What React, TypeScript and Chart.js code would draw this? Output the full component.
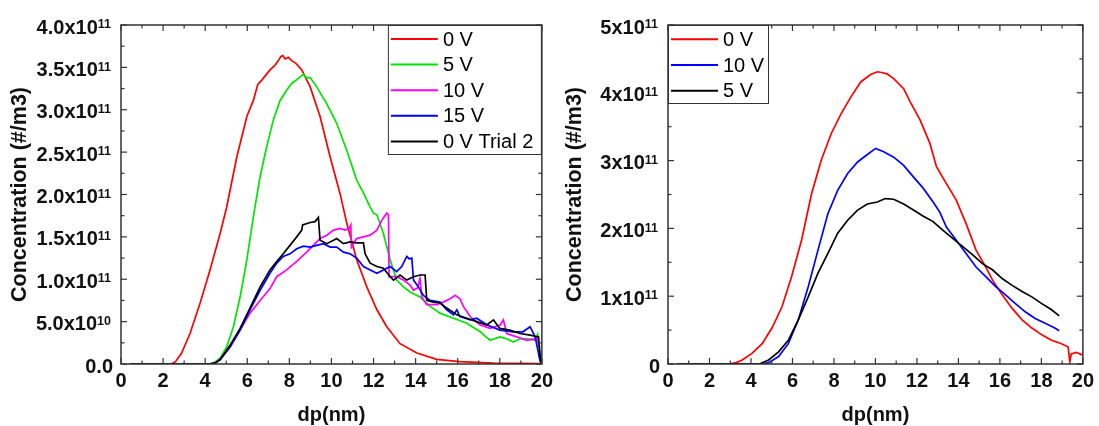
import React, { useEffect, useRef } from "react";
import { Chart, registerables } from "chart.js";

Chart.register(...registerables);

const FONT = "'Liberation Sans', Arial, Helvetica, sans-serif";
const E11 = 1e11;

// ---------- Left panel data (concentration in units of 1e11 #/m3) ----------
const left0V_x = [0.43, 2.4, 2.6, 2.88, 3.28, 3.76, 4.23, 4.71, 5.02, 5.5, 5.98, 6.29, 6.5, 6.69, 7.08, 7.3, 7.48, 7.6, 7.69, 7.8, 7.95, 8.11, 8.3, 8.59, 8.99, 9.46, 9.94, 10.41, 10.73, 11.2, 11.68, 12.16, 12.63, 13.26, 14.06, 15.0, 16.1, 17.7, 20.0];
const left0V_y = [0, 0, 0.03, 0.13, 0.36, 0.72, 1.11, 1.54, 1.85, 2.44, 2.92, 3.11, 3.3, 3.35, 3.47, 3.52, 3.58, 3.63, 3.64, 3.6, 3.62, 3.58, 3.55, 3.47, 3.27, 2.92, 2.44, 2.01, 1.66, 1.23, 0.91, 0.64, 0.44, 0.24, 0.13, 0.055, 0.027, 0.01, 0.005];

const left5V_x = [0.43, 4.2, 4.45, 4.71, 5.02, 5.34, 5.66, 5.98, 6.29, 6.61, 6.92, 7.24, 7.56, 7.87, 8.11, 8.43, 8.67, 8.8, 8.99, 9.3, 9.78, 10.25, 10.73, 11.2, 11.52, 11.84, 12.0, 12.16, 12.47, 12.79, 13.1, 13.42, 13.74, 14.21, 14.69, 15.16, 15.8, 16.43, 17.07, 17.3, 17.54, 18.0, 18.3, 18.64, 19.0, 19.28, 19.68, 19.8, 19.9];
const left5V_y = [0, 0, 0.02, 0.07, 0.2, 0.44, 0.79, 1.23, 1.74, 2.21, 2.56, 2.88, 3.11, 3.23, 3.31, 3.37, 3.42, 3.38, 3.38, 3.27, 3.07, 2.84, 2.52, 2.17, 2.02, 1.85, 1.78, 1.76, 1.54, 1.23, 0.99, 0.91, 0.85, 0.79, 0.68, 0.6, 0.54, 0.48, 0.38, 0.33, 0.28, 0.32, 0.3, 0.26, 0.3, 0.3, 0.28, 0.35, 0.09];

const left10V_x = [0.43, 4.2, 4.45, 4.71, 5.18, 5.66, 6.13, 6.61, 7.08, 7.4, 7.87, 8.35, 8.82, 9.14, 9.46, 9.78, 10.1, 10.41, 10.65, 10.85, 10.92, 10.95, 11.2, 11.52, 11.84, 12.16, 12.4, 12.63, 12.71, 12.74, 13.1, 13.42, 13.74, 13.9, 14.1, 14.21, 14.29, 14.53, 15.0, 15.32, 15.64, 15.88, 16.11, 16.27, 16.59, 17.07, 17.54, 18.02, 18.17, 18.33, 18.8, 19.28, 19.76, 19.9];
const left10V_y = [0, 0, 0.01, 0.05, 0.2, 0.4, 0.6, 0.75, 0.89, 1.03, 1.11, 1.21, 1.32, 1.4, 1.48, 1.52, 1.58, 1.6, 1.58, 1.6, 1.64, 1.38, 1.48, 1.5, 1.52, 1.58, 1.7, 1.78, 1.76, 1.03, 1.03, 0.99, 0.93, 0.87, 0.9, 1.01, 0.79, 0.7, 0.7, 0.73, 0.77, 0.81, 0.77, 0.68, 0.56, 0.46, 0.42, 0.46, 0.52, 0.36, 0.32, 0.28, 0.3, 0.2];

const left15V_x = [0.43, 4.2, 4.45, 4.71, 5.18, 5.66, 6.13, 6.61, 7.08, 7.4, 7.71, 8.03, 8.35, 8.67, 8.99, 9.3, 9.62, 9.94, 10.25, 10.57, 10.89, 11.2, 11.52, 11.84, 12.16, 12.47, 12.79, 13.1, 13.34, 13.58, 13.7, 13.82, 13.9, 14.13, 14.37, 14.69, 15.16, 15.48, 15.8, 15.96, 16.1, 16.6, 16.9, 17.4, 18.0, 18.64, 19.1, 19.44, 19.68, 19.92];
const left15V_y = [0, 0, 0.01, 0.055, 0.2, 0.4, 0.64, 0.87, 1.07, 1.19, 1.27, 1.3, 1.36, 1.39, 1.38, 1.4, 1.42, 1.38, 1.38, 1.32, 1.3, 1.25, 1.15, 1.11, 1.07, 1.11, 1.15, 1.09, 1.15, 1.27, 1.24, 1.25, 0.99, 0.91, 0.81, 0.75, 0.73, 0.64, 0.58, 0.64, 0.56, 0.52, 0.54, 0.46, 0.4, 0.38, 0.38, 0.44, 0.32, 0.03];

const left0VT2_x = [0.43, 4.2, 4.45, 4.71, 5.18, 5.66, 6.13, 6.61, 7.08, 7.4, 7.71, 8.03, 8.35, 8.59, 8.63, 8.99, 9.22, 9.38, 9.46, 9.78, 10.1, 10.25, 10.57, 10.89, 11.2, 11.52, 11.6, 11.84, 12.16, 12.47, 12.79, 12.95, 13.26, 13.58, 13.9, 14.21, 14.45, 14.53, 14.85, 15.16, 15.48, 15.96, 16.43, 16.9, 17.38, 17.7, 18.0, 18.48, 18.96, 19.44, 19.84, 19.95];
const left0VT2_y = [0, 0, 0.01, 0.05, 0.22, 0.42, 0.66, 0.91, 1.11, 1.21, 1.3, 1.4, 1.5, 1.58, 1.64, 1.67, 1.68, 1.73, 1.46, 1.42, 1.46, 1.48, 1.42, 1.44, 1.43, 1.43, 1.3, 1.19, 1.15, 1.13, 1.03, 0.99, 1.05, 0.99, 1.03, 1.05, 1.05, 0.75, 0.73, 0.72, 0.66, 0.58, 0.54, 0.5, 0.46, 0.52, 0.42, 0.4, 0.36, 0.34, 0.32, 0.01];

const leftYTickValues = [0, 0.5, 1.0, 1.5, 2.0, 2.5, 3.0, 3.5, 4.0];
const leftYTickMantissas = ["0.0", "5.0x10", "1.0x10", "1.5x10", "2.0x10", "2.5x10", "3.0x10", "3.5x10", "4.0x10"];
const leftYTickExponents = ["", "10", "11", "11", "11", "11", "11", "11", "11"];
const leftYMinor = [0.25, 0.75, 1.25, 1.75, 2.25, 2.75, 3.25, 3.75];

// ---------- Right panel data ----------
const right0V_x = [0.43, 2.95, 3.3, 3.58, 4.06, 4.54, 5.01, 5.49, 5.96, 6.44, 6.92, 7.39, 7.87, 8.34, 8.82, 9.29, 9.77, 10.09, 10.3, 10.56, 10.88, 11.36, 11.67, 12.15, 12.63, 12.94, 13.42, 13.89, 14.37, 14.85, 15.32, 15.64, 16.11, 16.59, 17.07, 17.54, 18.02, 18.49, 18.97, 19.29, 19.37, 19.44, 19.68, 20.0];
const right0V_y = [0, 0, 0.02, 0.06, 0.16, 0.3, 0.53, 0.84, 1.29, 1.83, 2.51, 3.01, 3.4, 3.69, 3.94, 4.16, 4.27, 4.31, 4.3, 4.28, 4.21, 4.06, 3.87, 3.6, 3.25, 2.91, 2.66, 2.42, 2.07, 1.68, 1.43, 1.24, 1.02, 0.82, 0.65, 0.53, 0.43, 0.35, 0.3, 0.25, 0.03, 0.15, 0.17, 0.13];

const right10V_x = [0.43, 4.54, 4.85, 5.33, 5.8, 6.28, 6.76, 7.23, 7.71, 8.18, 8.66, 9.14, 9.61, 10.01, 10.4, 10.88, 11.36, 11.83, 12.31, 12.78, 13.1, 13.42, 13.89, 14.37, 14.85, 15.32, 15.8, 16.27, 16.75, 17.22, 17.7, 18.18, 18.65, 18.86];
const right10V_y = [0, 0, 0.02, 0.11, 0.3, 0.65, 1.14, 1.68, 2.22, 2.56, 2.81, 2.98, 3.09, 3.18, 3.13, 3.05, 2.93, 2.76, 2.59, 2.39, 2.24, 2.02, 1.83, 1.63, 1.43, 1.29, 1.14, 1.02, 0.89, 0.77, 0.67, 0.6, 0.53, 0.49];

const right5V_x = [0.43, 4.4, 4.85, 5.33, 5.8, 6.28, 6.76, 7.23, 7.71, 8.18, 8.66, 9.14, 9.61, 10.09, 10.48, 10.88, 11.36, 11.83, 12.31, 12.78, 13.26, 13.74, 14.21, 14.69, 15.16, 15.64, 16.11, 16.59, 17.07, 17.54, 18.02, 18.49, 18.86];
const right5V_y = [0, 0, 0.06, 0.18, 0.35, 0.65, 0.99, 1.34, 1.63, 1.93, 2.12, 2.27, 2.36, 2.39, 2.44, 2.43, 2.36, 2.27, 2.18, 2.1, 1.97, 1.85, 1.73, 1.61, 1.48, 1.39, 1.26, 1.16, 1.07, 0.99, 0.89, 0.8, 0.71];

const rightYTickValues = [0, 1, 2, 3, 4, 5];
const rightYTickMantissas = ["0", "1x10", "2x10", "3x10", "4x10", "5x10"];
const rightYTickExponents = ["", "11", "11", "11", "11", "11"];
const rightYMinor = [0.5, 1.5, 2.5, 3.5, 4.5];

const xMajor = [0, 2, 4, 6, 8, 10, 12, 14, 16, 18, 20];
const xMinor = [1, 3, 5, 7, 9, 11, 13, 15, 17, 19];

type Series = { label: string; color: string; xs: number[]; ys: number[] };

const leftSeries: Series[] = [
  { label: "0 V", color: "#ff0000", xs: left0V_x, ys: left0V_y },
  { label: "5 V", color: "#00e600", xs: left5V_x, ys: left5V_y },
  { label: "10 V", color: "#ff00ff", xs: left10V_x, ys: left10V_y },
  { label: "15 V", color: "#0000ff", xs: left15V_x, ys: left15V_y },
  { label: "0 V Trial 2", color: "#000000", xs: left0VT2_x, ys: left0VT2_y },
];

const rightSeries: Series[] = [
  { label: "0 V", color: "#ff0000", xs: right0V_x, ys: right0V_y },
  { label: "10 V", color: "#0000ff", xs: right10V_x, ys: right10V_y },
  { label: "5 V", color: "#000000", xs: right5V_x, ys: right5V_y },
];

const framePlugin = {
  id: "frame",
  afterDraw(chart: any, _args: any, o: any) {
    const { ctx, chartArea: a } = chart;
    const xs = chart.scales.x;
    const ys = chart.scales.y;
    ctx.save();
    const seg = (x1: number, y1: number, x2: number, y2: number) => {
      ctx.beginPath();
      ctx.moveTo(x1, y1);
      ctx.lineTo(x2, y2);
      ctx.stroke();
    };
    ctx.strokeStyle = "#333";
    ctx.lineWidth = 1.2;
    const xt = (vals: number[], len: number) =>
      vals.forEach((v) => {
        const p = xs.getPixelForValue(v);
        seg(p, a.bottom, p, a.bottom - len);
        seg(p, a.top, p, a.top + len);
      });
    const yt = (vals: number[], len: number) =>
      vals.forEach((v) => {
        const p = ys.getPixelForValue(v * E11);
        seg(a.left, p, a.left + len, p);
        seg(a.right, p, a.right - len, p);
      });
    xt(o.xMajor, 6);
    xt(o.xMinor, 3.5);
    yt(o.yMajor, 6);
    yt(o.yMinor, 3.5);

    // legend
    const L = o.legend;
    const lx = L.alignRight ? a.right - L.w : a.left;
    const ly = a.top;
    ctx.fillStyle = "#fff";
    ctx.fillRect(lx, ly, L.w, L.h);
    ctx.strokeStyle = "#333";
    ctx.lineWidth = 1;
    ctx.strokeRect(lx + 0.5, ly + 0.5, L.w - 1, L.h - 1);
    chart.data.datasets.forEach((d: any, i: number) => {
      const cy = ly + L.first + i * L.step;
      ctx.strokeStyle = d.borderColor;
      ctx.lineWidth = 2;
      seg(lx + 3, cy, lx + 50, cy);
      ctx.fillStyle = "#000";
      ctx.font = `20px ${FONT}`;
      ctx.textAlign = "left";
      ctx.textBaseline = "middle";
      ctx.fillText(d.label, lx + 55, cy + 1);
    });

    // frame
    ctx.strokeStyle = "#333";
    ctx.lineWidth = 1.5;
    ctx.strokeRect(a.left, a.top, a.right - a.left, a.bottom - a.top);

    // y tick labels with exponents
    ctx.fillStyle = "#111";
    ctx.textAlign = "left";
    ctx.textBaseline = "alphabetic";
    o.yVals.forEach((v: number, i: number) => {
      const py = ys.getPixelForValue(v * E11);
      const m = o.yMant[i];
      const e = o.yExp[i];
      ctx.font = `bold 20px ${FONT}`;
      const mw = ctx.measureText(m).width;
      ctx.font = `bold 12.5px ${FONT}`;
      const ew = e ? ctx.measureText(e).width : 0;
      const right = a.left - (e ? 10 : 8);
      const x0 = right - mw - ew;
      ctx.font = `bold 20px ${FONT}`;
      ctx.fillText(m, x0, py + 8.5);
      if (e) {
        ctx.font = `bold 12.5px ${FONT}`;
        ctx.fillText(e, x0 + mw, py + 3.2);
      }
    });
    ctx.restore();
  },
};

type PanelSpec = {
  series: Series[];
  yMax: number;
  yAxisWidth: number;
  padRight: number;
  yTitlePad: number;
  yVals: number[];
  yMant: string[];
  yExp: string[];
  yMinor: number[];
  legend: { alignRight: boolean; w: number; h: number; first: number; step: number };
};

function makeConfig(p: PanelSpec): any {
  return {
    type: "line",
    data: {
      datasets: p.series.map((s, i) => ({
        label: s.label,
        data: s.xs.map((x, j) => ({ x, y: s.ys[j] * E11 })),
        borderColor: s.color,
        backgroundColor: s.color,
        borderWidth: 1.7,
        pointRadius: 0,
        tension: 0,
        fill: false,
        order: p.series.length - i,
      })),
    },
    options: {
      responsive: false,
      animation: false,
      devicePixelRatio: 1,
      layout: { padding: { left: 0, top: 25, right: p.padRight, bottom: 0 } },
      plugins: {
        legend: { display: false },
        tooltip: { enabled: false },
        frame: {
          xMajor,
          xMinor,
          yMajor: p.yVals,
          yMinor: p.yMinor,
          yVals: p.yVals,
          yMant: p.yMant,
          yExp: p.yExp,
          legend: p.legend,
        },
      },
      scales: {
        x: {
          type: "linear",
          min: 0,
          max: 20,
          afterFit: (s: any) => {
            s.height = 62;
          },
          grid: { display: false, drawTicks: false },
          border: { display: false },
          ticks: {
            stepSize: 2,
            autoSkip: false,
            maxRotation: 0,
            padding: 5,
            color: "#111",
            font: { family: FONT, size: 20, weight: "bold" },
          },
          title: {
            display: true,
            text: "dp(nm)",
            color: "#111",
            font: { family: FONT, size: 20, weight: "bold", lineHeight: 1.1 },
            padding: { top: 0, bottom: 0 },
          },
        },
        y: {
          type: "linear",
          min: 0,
          max: p.yMax * E11,
          afterFit: (s: any) => {
            s.width = p.yAxisWidth;
          },
          grid: { display: false, drawTicks: false },
          border: { display: false },
          ticks: { display: false },
          title: {
            display: true,
            text: "Concentration (#/m3)",
            color: "#111",
            font: { family: FONT, size: 21.5, weight: "bold" },
            padding: { top: p.yTitlePad, bottom: 0 },
          },
        },
      },
    },
    plugins: [framePlugin],
  };
}

function Panel({ left, width, spec }: { left: number; width: number; spec: PanelSpec }) {
  const ref = useRef<HTMLCanvasElement>(null);
  useEffect(() => {
    const chart = new Chart(ref.current as HTMLCanvasElement, makeConfig(spec));
    return () => chart.destroy();
  }, []);
  return (
    <canvas
      ref={ref}
      width={width}
      height={426}
      style={{ position: "absolute", left, top: 0, width, height: 426 }}
    />
  );
}

const leftSpec: PanelSpec = {
  series: leftSeries,
  yMax: 4,
  yAxisWidth: 121,
  padRight: 16,
  yTitlePad: 7,
  yVals: leftYTickValues,
  yMant: leftYTickMantissas,
  yExp: leftYTickExponents,
  yMinor: leftYMinor,
  legend: { alignRight: true, w: 154, h: 130, first: 14, step: 25.6 },
};

const rightSpec: PanelSpec = {
  series: rightSeries,
  yMax: 5,
  yAxisWidth: 110,
  padRight: 11,
  yTitlePad: 4,
  yVals: rightYTickValues,
  yMant: rightYTickMantissas,
  yExp: rightYTickExponents,
  yMinor: rightYMinor,
  legend: { alignRight: false, w: 101, h: 79, first: 14.3, step: 25.7 },
};

export default function App() {
  return (
    <div
      style={{
        position: "absolute",
        left: 0,
        top: 0,
        width: 1099,
        height: 426,
        background: "#fff",
        overflow: "hidden",
      }}
    >
      <Panel left={0} width={558} spec={leftSpec} />
      <Panel left={558} width={541} spec={rightSpec} />
    </div>
  );
}
